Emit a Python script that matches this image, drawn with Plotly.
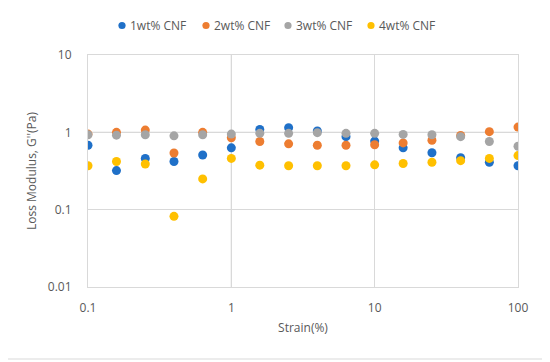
import plotly.graph_objects as go

strain = [0.1, 0.158, 0.251, 0.398, 0.631, 1.0, 1.58, 2.51, 3.98, 6.31, 10.0, 15.8, 25.1, 39.8, 63.1, 100.0]
cnf1 = [0.68, 0.32, 0.46, 0.42, 0.51, 0.63, 1.09, 1.15, 1.04, 0.88, 0.77, 0.63, 0.545, 0.47, 0.41, 0.37]
cnf2 = [0.95, 1.00, 1.07, 0.54, 1.00, 0.85, 0.76, 0.71, 0.68, 0.68, 0.69, 0.73, 0.79, 0.91, 1.02, 1.17]
cnf3 = [0.93, 0.92, 0.93, 0.90, 0.93, 0.95, 0.97, 0.97, 0.99, 0.97, 0.97, 0.94, 0.93, 0.88, 0.76, 0.66]
cnf4 = [0.37, 0.42, 0.39, 0.082, 0.25, 0.46, 0.376, 0.37, 0.37, 0.37, 0.38, 0.395, 0.41, 0.43, 0.46, 0.50]

names = ["1wt% CNF", "2wt% CNF", "3wt% CNF", "4wt% CNF"]
colors = ["#1F70C8", "#ED7D31", "#A5A5A5", "#FFC000"]
series = [cnf1, cnf2, cnf3, cnf4]

x_ticks = [0.1, 1, 10, 100]
y_ticks = [0.01, 0.1, 1, 10]

# page body adds an 8px offset; layout is compensated for it
OFF = 8
W, H = 550 - OFF, 362 - OFF
L, T = 88 - OFF, 55 - OFF
pw, ph = 430, 232
R, B = W - L - pw, H - T - ph

def px(x):  # screen x -> paper x
    return (x - OFF - L) / pw

def py(y):  # screen y -> paper y
    return (T + ph - (y - OFF)) / ph

fig = go.Figure()
for name, col, ys in zip(names, colors, series):
    fig.add_trace(go.Scatter(x=strain, y=ys, mode="markers", name=name,
                             marker=dict(color=col, size=9, line=dict(width=0))))

txt = "#595959"
font = "Open Sans"

# Excel-style axis lines crossing at 1
fig.add_shape(type="line", xref="x", yref="paper", x0=1, x1=1, y0=0, y1=1,
              line=dict(color="#BFBFBF", width=1), layer="below")
fig.add_shape(type="line", xref="paper", yref="y", x0=0, x1=1, y0=1, y1=1,
              line=dict(color="#BFBFBF", width=1), layer="below")
# chart border (right and bottom edges)
fig.add_shape(type="line", xref="paper", yref="paper", x0=px(547), x1=px(547),
              y0=py(359), y1=py(OFF), line=dict(color="#D9D9D9", width=1), layer="below")
fig.add_shape(type="line", xref="paper", yref="paper", x0=px(OFF), x1=px(547),
              y0=py(359), y1=py(359), line=dict(color="#D9D9D9", width=1), layer="below")

# custom legend
leg_x = [122, 206, 288, 371]
leg_y = 25.5
r = 3.6
for name, col, lx in zip(names, colors, leg_x):
    fig.add_shape(type="circle", xref="paper", yref="paper",
                  x0=px(lx - r), x1=px(lx + r), y0=py(leg_y + r), y1=py(leg_y - r),
                  fillcolor=col, line=dict(width=0))
    fig.add_annotation(text=name, xref="paper", yref="paper", x=px(lx + 6), y=py(leg_y),
                       xanchor="left", yanchor="middle", showarrow=False,
                       font=dict(size=12, color=txt, family=font))

fig.update_layout(
    width=W, height=H,
    margin=dict(l=L, r=R, t=T, b=B),
    paper_bgcolor="white", plot_bgcolor="white",
    font=dict(family=font, size=12, color=txt),
    showlegend=False,
    xaxis=dict(type="log", range=[-1, 2], tickvals=x_ticks,
               ticktext=[str(v) for v in x_ticks],
               showgrid=True, gridcolor="#D9D9D9", gridwidth=1,
               showline=True, linecolor="#D9D9D9", mirror=True,
               ticks="", ticklabelstandoff=10, automargin=False,
               title=dict(text="Strain(%)", font=dict(size=12, color=txt), standoff=8),
               zeroline=False),
    yaxis=dict(type="log", range=[-2, 1], tickvals=y_ticks,
               ticktext=[str(v) for v in y_ticks],
               showgrid=True, gridcolor="#D9D9D9", gridwidth=1,
               showline=True, linecolor="#D9D9D9", mirror=True,
               ticks="", ticklabelstandoff=13, automargin=False,
               title=dict(text="Loss Modulus, G''(Pa)", font=dict(size=12, color=txt), standoff=8),
               zeroline=False),
)

fig.write_html("out.html")
